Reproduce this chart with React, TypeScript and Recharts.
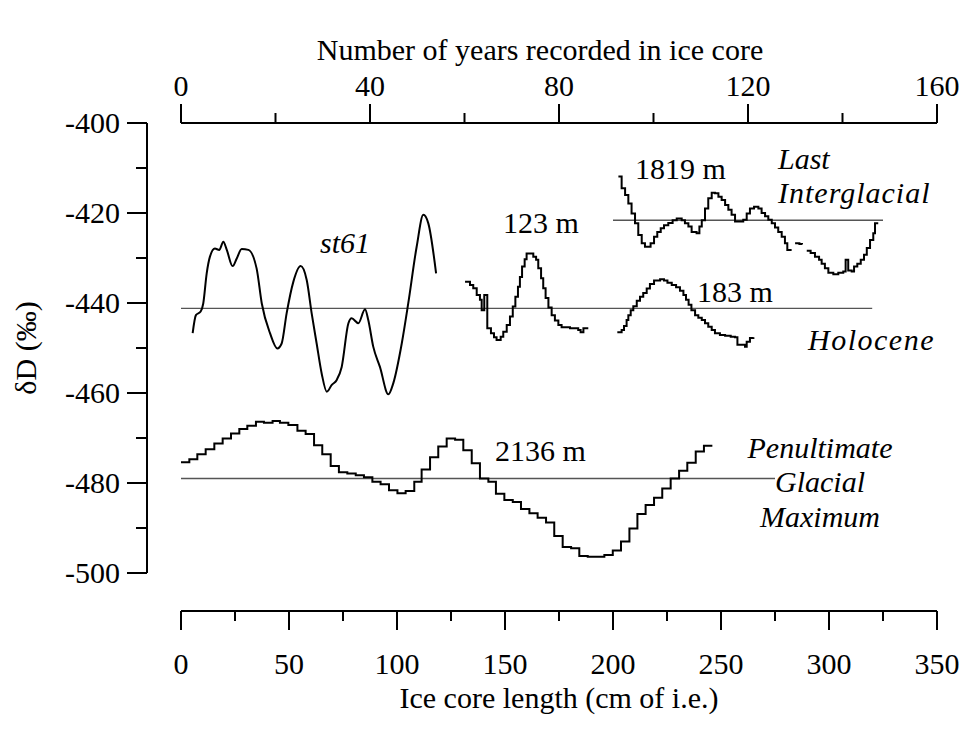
import React from 'react'
import { ComposedChart, Line, XAxis, YAxis, ReferenceLine } from 'recharts'

const FONT = '"Liberation Serif", "Times New Roman", serif'

// axis ticks
const YEAR_TICKS = [0, 20, 40, 60, 80, 100, 120, 140, 160]
const YEAR_LABELS = [0, 40, 80, 120, 160]
const CM_TICKS = [0, 25, 50, 75, 100, 125, 150, 175, 200, 225, 250, 275, 300, 325, 350]
const CM_LABELS = [0, 50, 100, 150, 200, 250, 300, 350]
const D_TICKS = [-500, -490, -480, -470, -460, -450, -440, -430, -420, -410, -400]
const D_LABELS = [-500, -480, -460, -440, -420, -400]

// [cm, δD]
const ST61: [number, number][] = [
  [5.4, -446.7], [6.9, -442.7], [9.1, -441.9], [10.3, -440.1], [11.9, -433.4], [13.4, -429.7],
  [15.7, -427.9], [17.7, -428.2], [19.6, -426.4], [21.2, -428.2], [23.9, -431.8], [25.8, -430.1],
  [28.1, -428.0], [31.2, -428.2], [35.0, -432.3], [37.4, -440.1], [41.2, -446.7], [44.6, -450.1],
  [46.6, -449.0], [48.9, -442.3], [52.0, -435.3], [55.4, -431.8], [58.2, -434.9], [60.5, -442.3],
  [62.8, -449.0], [65.1, -455.6], [67.5, -459.7], [69.8, -458.2], [72.1, -457.1], [74.4, -454.2],
  [77.5, -444.5], [79.0, -443.4], [82.1, -444.5], [85.2, -441.4], [86.7, -443.8], [89.0, -449.7],
  [92.1, -454.2], [96.0, -460.3], [98.3, -457.8], [102.2, -449.0], [105.2, -440.1], [109.1, -427.5],
  [112.2, -420.4], [114.5, -422.3], [118.1, -433.4],
]

const CORE_123: [number, number][] = [
  [131.5, -435.3], [133.8, -436.0], [135.3, -436.7], [136.9, -438.2], [138.4, -439.3], [139.2, -441.6],
  [140.4, -438.2], [141.8, -445.6], [143.5, -446.7], [144.9, -447.6], [146.1, -448.2], [148.0, -447.5],
  [149.2, -446.4], [150.8, -444.9], [152.3, -443.0], [153.6, -440.8], [154.8, -438.6], [156.0, -436.4],
  [156.9, -434.2], [157.9, -431.9], [159.1, -430.3], [160.0, -429.0], [163.1, -429.7], [164.4, -430.4],
  [165.4, -432.3], [166.7, -434.5], [167.7, -436.7], [168.8, -438.9], [170.1, -441.0], [171.6, -442.7],
  [173.1, -443.9], [174.7, -444.9], [176.2, -445.4], [180.1, -445.6], [183.9, -446.0], [185.0, -446.5],
  [186.3, -445.6], [188.1, -445.4],
]

const CORE_183: [number, number][] = [
  [202.0, -446.5], [204.0, -446.0], [205.1, -445.1], [206.3, -443.8], [207.1, -442.7], [208.2, -441.6],
  [209.4, -440.7], [211.0, -439.5], [212.5, -438.6], [214.0, -437.8], [215.6, -436.8], [217.1, -435.8],
  [219.0, -435.0], [221.8, -434.7], [223.6, -435.0], [225.2, -435.5], [227.2, -436.0], [229.2, -436.5],
  [231.0, -437.3], [232.6, -438.2], [233.8, -439.3], [235.0, -440.4], [236.3, -441.6], [238.0, -442.7],
  [239.5, -443.3], [241.1, -443.8], [242.6, -444.5], [244.1, -445.3], [245.7, -446.0], [247.2, -446.7],
  [249.5, -447.1], [251.9, -447.3], [254.5, -447.5], [256.5, -447.6], [257.6, -449.3], [259.6, -449.3],
  [261.1, -449.7], [261.9, -448.6], [263.4, -447.8], [265.0, -447.6],
]

// null = gap in the record
const CORE_1819: [number, number | null][] = [
  [202.5, -411.9], [204.0, -414.5], [205.6, -416.0], [207.1, -417.9], [208.6, -420.1], [210.2, -422.3],
  [211.7, -424.9], [213.3, -426.7], [214.8, -427.5], [217.4, -426.7], [219.0, -425.3], [220.5, -424.2],
  [222.1, -423.4], [223.6, -422.7], [225.6, -422.2], [227.6, -421.6], [229.5, -421.2], [231.8, -421.6],
  [233.3, -422.3], [234.9, -423.0], [236.4, -424.2], [238.7, -424.5], [240.0, -423.0], [241.1, -421.6],
  [242.6, -419.0], [244.1, -416.7], [245.7, -415.5], [247.2, -415.6], [248.8, -416.4], [250.3, -417.1],
  [251.9, -418.2], [253.4, -419.3], [254.9, -420.4], [256.5, -421.9], [258.8, -421.9], [260.3, -421.5],
  [261.9, -420.1], [263.4, -419.0], [265.3, -418.6], [267.3, -419.0], [268.8, -420.0], [270.4, -420.7],
  [271.9, -421.5], [273.5, -422.3], [275.0, -423.2], [276.5, -424.2], [278.1, -425.3], [279.6, -426.7],
  [280.7, -428.2], [282.7, -428.2], [283.5, null], [284.3, -426.7], [286.3, -426.9], [287.5, -427.0],
  [288.6, null], [289.7, -428.4], [291.5, -428.9], [293.5, -429.7], [295.4, -430.4], [296.6, -431.3],
  [298.1, -432.3], [299.7, -433.3], [302.0, -433.6], [304.3, -433.3], [306.6, -433.0], [307.7, -430.4],
  [308.9, -432.8], [310.5, -433.0], [311.6, -431.9], [313.1, -431.3], [314.7, -430.4], [316.2, -429.3],
  [317.5, -427.8], [319.0, -426.0], [320.5, -424.5], [321.3, -422.3], [322.8, -422.3],
]

const CORE_2136: [number, number][] = [
  [0, -475.4], [3.86, -474.7], [7.56, -473.6], [11.42, -472.5], [15.43, -471.2], [19.29, -470.1],
  [23.15, -469.0], [27.0, -468.0], [30.7, -467.3], [34.7, -466.4], [38.4, -466.6], [42.4, -466.2],
  [45.8, -466.6], [49.7, -467.1], [53.9, -468.4], [57.7, -469.1], [61.6, -471.6], [65.4, -473.6],
  [69.3, -476.2], [73.1, -477.6], [77.0, -477.9], [80.9, -478.3], [84.7, -478.7], [88.6, -479.7],
  [92.4, -480.3], [96.3, -481.6], [100.2, -482.3], [104.0, -481.8], [108.0, -479.7], [111.4, -477.0],
  [115.3, -474.3], [119.1, -471.9], [123.0, -470.1], [126.9, -470.4], [130.7, -472.7], [134.6, -475.6],
  [138.4, -479.0], [142.3, -479.7], [145.8, -482.4], [149.7, -483.8], [153.6, -484.2], [157.4, -485.8],
  [161.3, -486.7], [165.1, -487.7], [169.0, -488.8], [172.8, -491.8], [176.7, -494.2], [180.6, -494.5],
  [184.4, -496.2], [188.3, -496.4], [192.1, -496.4], [196.0, -496.0], [199.9, -495.0], [203.7, -493.0],
  [207.6, -490.1], [211.3, -486.9], [215.1, -484.9], [219.0, -483.3], [222.8, -481.2], [226.7, -479.0],
  [230.6, -477.3], [234.4, -475.5], [238.3, -473.0], [242.1, -471.7], [246.0, -471.7],
]

// mean levels: [δD, from cm, to cm]
const MEAN_HOLOCENE = [-441.2, 0, 320]
const MEAN_LAST_IG = [-421.6, 200, 325]
const MEAN_PGM = [-479.0, 0, 275]

const rows = (pts: [number, number | null][]) => pts.map(([cm, d]) => ({ cm, d }))
// empty series that only gives the years axis its extent
const yearRows = YEAR_TICKS.map((yr) => ({ yr, d: null }))

function LeftTick({ x, y, payload }: any) {
  const major = D_LABELS.includes(payload.value)
  return (
    <g>
      <line x1={x - (major ? 20 : 11)} x2={x} y1={y} y2={y} stroke="#000" strokeWidth={2} />
      {major && (
        <text x={x - 27} y={y + 10} textAnchor="end" fontFamily={FONT} fontSize={30} fill="#000">
          {payload.value}
        </text>
      )}
    </g>
  )
}

function BottomTick({ x, y, payload }: any) {
  const major = CM_LABELS.includes(payload.value)
  return (
    <g>
      <line x1={x} x2={x} y1={y} y2={y + (major ? 19 : 10)} stroke="#000" strokeWidth={2} />
      {major && (
        <text x={x} y={y + 63} textAnchor="middle" fontFamily={FONT} fontSize={30} fill="#000">
          {payload.value}
        </text>
      )}
    </g>
  )
}

function TopTick({ x, y, payload }: any) {
  const major = YEAR_LABELS.includes(payload.value)
  return (
    <g>
      <line x1={x} x2={x} y1={y} y2={y - (major ? 19 : 10)} stroke="#000" strokeWidth={2} />
      {major && (
        <text x={x} y={y - 27} textAnchor="middle" fontFamily={FONT} fontSize={30} fill="#000">
          {payload.value}
        </text>
      )}
    </g>
  )
}

const axisStroke = { stroke: '#000', strokeWidth: 2 }

function MeanLine({ level }: { level: number[] }) {
  return (
    <ReferenceLine
      xAxisId="cm"
      yAxisId="d"
      segment={[{ x: level[1], y: level[0] }, { x: level[2], y: level[0] }]}
      stroke="#555"
      strokeWidth={1.4}
    />
  )
}

export default function App() {
  const txt = { fontFamily: FONT, fontSize: 30, fill: '#000' }
  const ital = { ...txt, fontStyle: 'italic' as const }
  return (
    <div style={{ position: 'absolute', left: 0, top: 0, width: 964, height: 731, background: '#fff' }}>
      <ComposedChart width={964} height={731} margin={{ top: 0, right: 27, bottom: 0, left: 0 }}>
        <XAxis
          xAxisId="cm"
          type="number"
          dataKey="cm"
          domain={[0, 350]}
          ticks={CM_TICKS}
          interval={0}
          height={120}
          tickSize={0}
          tickMargin={0}
          tick={<BottomTick />}
          axisLine={axisStroke}
        />
        <XAxis
          xAxisId="yr"
          orientation="top"
          type="number"
          dataKey="yr"
          domain={[0, 160]}
          ticks={YEAR_TICKS}
          interval={0}
          height={123}
          tickSize={0}
          tickMargin={0}
          tick={<TopTick />}
          axisLine={axisStroke}
        />
        <YAxis
          yAxisId="d"
          type="number"
          domain={[-500, -400]}
          ticks={D_TICKS}
          interval={0}
          width={147}
          tickSize={0}
          tickMargin={0}
          tick={<LeftTick />}
          axisLine={axisStroke}
        />
        {/* spacer axes keep the visible ones off the plot edge */}
        <XAxis xAxisId="aPadX" type="number" domain={[0, 350]} allowDataOverflow height={38} tick={false} axisLine={false} tickLine={false} />
        <YAxis yAxisId="aPadY" type="number" domain={[-500, -400]} allowDataOverflow width={34} tick={false} axisLine={false} tickLine={false} />

        <MeanLine level={MEAN_HOLOCENE} />
        <MeanLine level={MEAN_LAST_IG} />
        <MeanLine level={MEAN_PGM} />

        <Line xAxisId="yr" yAxisId="d" data={yearRows} dataKey="d" stroke="none" dot={false} legendType="none" isAnimationActive={false} />

        <Line xAxisId="cm" yAxisId="d" data={rows(ST61)} dataKey="d" type="monotone" stroke="#000" strokeWidth={2} dot={false} isAnimationActive={false} />
        <Line xAxisId="cm" yAxisId="d" data={rows(CORE_123)} dataKey="d" type="stepAfter" stroke="#000" strokeWidth={2} dot={false} isAnimationActive={false} />
        <Line xAxisId="cm" yAxisId="d" data={rows(CORE_183)} dataKey="d" type="stepAfter" stroke="#000" strokeWidth={2} dot={false} isAnimationActive={false} />
        <Line xAxisId="cm" yAxisId="d" data={rows(CORE_1819)} dataKey="d" type="stepAfter" stroke="#000" strokeWidth={2} dot={false} isAnimationActive={false} />
        <Line xAxisId="cm" yAxisId="d" data={rows(CORE_2136)} dataKey="d" type="stepAfter" stroke="#000" strokeWidth={2} dot={false} isAnimationActive={false} />
      </ComposedChart>

      <svg width={964} height={731} style={{ position: 'absolute', left: 0, top: 0, pointerEvents: 'none' }}>
        <text x={540} y={60} textAnchor="middle" {...txt}>Number of years recorded in ice core</text>
        <text x={559} y={708} textAnchor="middle" {...txt}>Ice core length (cm of i.e.)</text>
        <text transform="translate(36,348) rotate(-90)" textAnchor="middle" {...txt}>δD (‰)</text>

        <text x={320} y={253} {...ital}>st61</text>
        <text x={503} y={233} {...txt}>123 m</text>
        <text x={635} y={179} {...txt}>1819 m</text>
        <text x={778} y={169} {...ital}>Last</text>
        <text x={778} y={203} {...ital} letterSpacing={1}>Interglacial</text>
        <text x={697} y={302} {...txt}>183 m</text>
        <text x={808} y={350} {...ital} letterSpacing={1.5}>Holocene</text>
        <text x={495} y={461} {...txt}>2136 m</text>
        <text x={820} y={458} textAnchor="middle" {...ital}>Penultimate</text>
        <text x={820} y={492} textAnchor="middle" {...ital}>Glacial</text>
        <text x={820} y={527} textAnchor="middle" {...ital}>Maximum</text>
      </svg>
    </div>
  )
}
